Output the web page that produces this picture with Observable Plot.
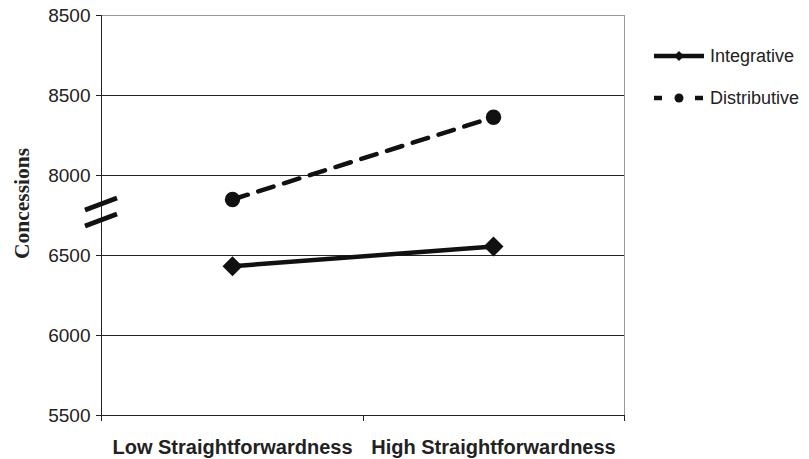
<!DOCTYPE html>
<html><head><meta charset="utf-8">
<script src="https://cdn.jsdelivr.net/npm/d3@7"></script>
<script src="https://cdn.jsdelivr.net/npm/@observablehq/plot@0.6"></script>
<style>html,body{margin:0;padding:0;background:#fff}</style>
</head><body><div id="chart"></div>
<script>
// ---- data ----
const categories = ["Low Straightforwardness", "High Straightforwardness"];
const seriesNames = ["Integrative", "Distributive"];
const integrative = [6433, 6669];
const distributive = [7550, 8364];
const tickValues = [5500, 6000, 6500, 8000, 8500, 9000];
const tickLabels = ["5500", "6000", "6500", "8000", "8500", "8500"];
const breakRange = [6500, 8000];
const yTitle = "Concessions";

// ---- layout ----
const W = 809, H = 459, mT = 15, mB = 44, mL = 101, mR = 185;
const INK = "#111";
const SANS = "'Liberation Sans', Arial, Helvetica, sans-serif";
const SERIF = "'Liberation Serif', 'Times New Roman', serif";

const intData = categories.map((c, i) => ({cat: c, value: integrative[i], series: seriesNames[0]}));
const distData = categories.map((c, i) => ({cat: c, value: distributive[i], series: seriesNames[1]}));

const plotH = H - mT - mB;
const yRange = tickValues.map((_, i) => H - mB - i * plotH / (tickValues.length - 1));

function decorations(index, scales, values, dims) {
  const {width, height, marginTop, marginBottom, marginLeft, marginRight} = dims;
  const x0 = marginLeft, x1 = width - marginRight, y0 = height - marginBottom, y1 = marginTop;
  const g = d3.create("svg:g");
  // right border (grey)
  g.append("line").attr("x1", x1 + 0.5).attr("x2", x1 + 0.5).attr("y1", y1).attr("y2", y0)
    .attr("stroke", "#999").attr("stroke-width", 1);
  // left axis line
  g.append("line").attr("x1", x0 + 0.5).attr("x2", x0 + 0.5).attr("y1", y1).attr("y2", y0 + 6)
    .attr("stroke", "#222").attr("stroke-width", 1);
  // category boundary ticks
  const n = categories.length;
  for (let i = 0; i <= n; i++) {
    const bx = Math.round(x0 + i * (x1 - x0) / n) + 0.5;
    g.append("line").attr("x1", bx).attr("x2", bx).attr("y1", y0).attr("y2", y0 + 6)
      .attr("stroke", "#222").attr("stroke-width", 1);
  }
  // axis break marks
  const cy = (scales.y(breakRange[0]) + scales.y(breakRange[1])) / 2 - 3;
  for (const off of [-8, 8]) {
    g.append("line")
      .attr("x1", x0 - 16).attr("y1", cy + off + 6)
      .attr("x2", x0 + 16).attr("y2", cy + off - 6)
      .attr("stroke", INK).attr("stroke-width", 5);
  }
  // y title
  g.append("text")
    .attr("transform", `translate(28.5,${(y0 + y1) / 2 - 11.5}) rotate(-90)`)
    .attr("text-anchor", "middle")
    .attr("font-family", SERIF).attr("font-weight", "bold").attr("font-size", 21.5)
    .attr("fill", "#222").text(yTitle);
  // legend
  const lx = x1 + 30, lw = 50;
  const ly = [marginTop + 41, marginTop + 83];
  // Integrative
  g.append("line").attr("x1", lx).attr("x2", lx + lw).attr("y1", ly[0]).attr("y2", ly[0])
    .attr("stroke", INK).attr("stroke-width", 4.5);
  g.append("path").attr("d", d3.symbol(d3.symbolDiamond2, 64)())
    .attr("transform", `translate(${lx + lw / 2},${ly[0]})`).attr("fill", INK);
  // Distributive
  g.append("line").attr("x1", lx).attr("x2", lx + 8).attr("y1", ly[1]).attr("y2", ly[1])
    .attr("stroke", INK).attr("stroke-width", 4.5);
  g.append("line").attr("x1", lx + lw - 9).attr("x2", lx + lw - 1).attr("y1", ly[1]).attr("y2", ly[1])
    .attr("stroke", INK).attr("stroke-width", 4.5);
  g.append("circle").attr("cx", lx + lw / 2).attr("cy", ly[1]).attr("r", 4.5).attr("fill", INK);
  seriesNames.forEach((s, i) => {
    g.append("text").attr("x", lx + lw + 6).attr("y", ly[i]).attr("dy", "0.35em")
      .attr("text-anchor", "start")
      .attr("font-family", SANS).attr("font-size", 18).attr("fill", "#222").text(s);
  });
  return g.node();
}

const chart = Plot.plot({
  width: W, height: H,
  marginTop: mT, marginBottom: mB, marginLeft: mL, marginRight: mR,
  style: {fontFamily: SANS, color: "#222", background: "#fff"},
  x: {type: "point", domain: categories, padding: 0.5, label: null},
  y: {type: "linear", domain: tickValues, range: yRange, label: null},
  marks: [
    Plot.ruleY(tickValues.slice(1, -1), {stroke: "#222", strokeWidth: 1}),
    Plot.ruleY([tickValues[tickValues.length - 1]], {stroke: "#999", strokeWidth: 1}),
    Plot.ruleY([tickValues[0]], {stroke: "#222", strokeWidth: 1}),
    Plot.axisY({ticks: tickValues, tickFormat: d => tickLabels[tickValues.indexOf(d)],
      tickSize: 5, tickPadding: 6, fontSize: 19, label: null}),
    Plot.axisX({tickSize: 0, tickPadding: 24, fontSize: 20, fontWeight: "bold", label: null}),
    Plot.line(intData, {x: "cat", y: "value", stroke: INK, strokeWidth: 4.5}),
    Plot.line(distData, {x: "cat", y: "value", stroke: INK, strokeWidth: 4.5, strokeDasharray: "16,11"}),
    Plot.dot(intData, {x: "cat", y: "value", symbol: "diamond2", r: 9, fill: INK}),
    Plot.dot(distData, {x: "cat", y: "value", r: 7.7, fill: INK}),
    decorations
  ]
});
document.getElementById("chart").append(chart);
</script>
</body></html>
